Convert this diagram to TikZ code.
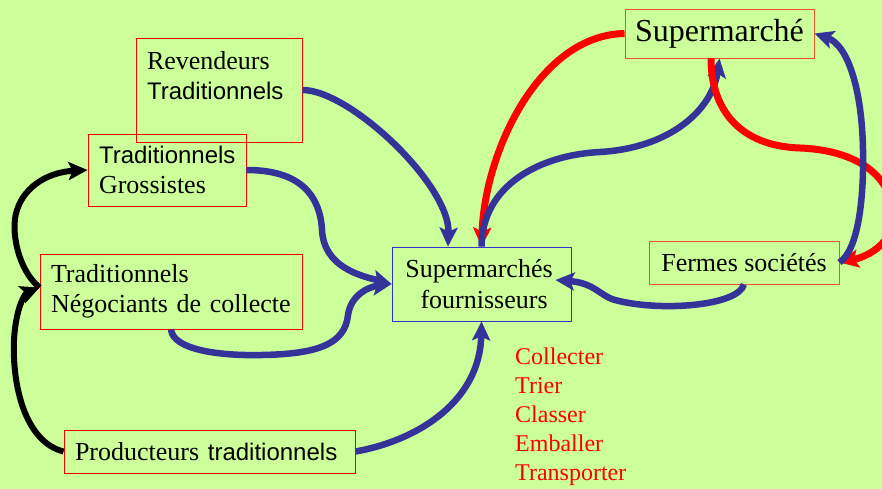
\documentclass[tikz,border=0pt]{standalone}
\usepackage{fontspec}
\setmainfont{Liberation Serif}
\setsansfont{Liberation Sans}
\usetikzlibrary{arrows.meta}

\definecolor{bgc}{RGB}{204,255,153}
\definecolor{flowblue}{RGB}{51,51,153}
\definecolor{flowred}{RGB}{255,0,0}
\definecolor{edgeorange}{RGB}{238,85,51}
\definecolor{edgeblue}{RGB}{51,51,204}

\tikzset{
  tradbox/.style={draw=flowred, line width=0.9pt, inner ysep=0pt, inner xsep=11pt,
    align=left, font=\fontsize{26}{30}\selectfont},
  shopbox/.style={draw=edgeorange, line width=0.9pt, inner sep=0pt, align=center},
  hubbox/.style={draw=edgeblue, line width=0.8pt, inner sep=0pt, align=right,
    font=\fontsize{26}{31}\selectfont},
  tip/.style={-{Stealth[length=19pt,width=18pt,inset=4pt]}},
  blueflow/.style={tip, draw=flowblue, line width=6.5pt},
  redflow/.style={tip, draw=flowred, line width=7pt},
  blackflow/.style={tip, draw=black, line width=6pt},
}
\newcommand{\sanstxt}[1]{{\sffamily\fontsize{24}{30}\selectfont #1}}

\begin{document}
\begin{tikzpicture}[x=1pt,y=-1pt]
  \fill[bgc] (0,0) rectangle (882,489);
  \useasboundingbox (0,0) rectangle (882,489);

  % boxes
  \node[tradbox, text width=144pt, minimum height=104pt] (rev) at (219,90)
    {Revendeurs\\\sanstxt{Traditionnels}\\\mbox{}};
  \node[tradbox, text width=136pt, minimum height=72pt] (gro) at (167,170)
    {\sanstxt{Traditionnels}\\Grossistes};
  \node[tradbox, text width=240pt, minimum height=75pt] (neg) at (171,291.5)
    {Traditionnels\\Négociants de collecte};
  \node[tradbox, text width=269pt, minimum height=43pt] (prod) at (209.5,451.5)
    {Producteurs \sanstxt{traditionnels}};
  \node[hubbox, minimum width=179pt, minimum height=74pt] (sf) at (481.5,284)
    {\hspace*{-5pt}Supermarchés\\fournisseurs\hspace*{5pt}};
  \node[shopbox, minimum width=189pt, minimum height=49pt,
    font=\fontsize{32}{36}\selectfont] (sm) at (719.5,33.5) {Supermarché};
  \node[shopbox, minimum width=190pt, minimum height=43pt,
    font=\fontsize{26}{30}\selectfont] (fs) at (744,262.5) {Fermes sociétés};

  \node[font=\fontsize{24}{29}\selectfont, text=flowred, align=left,
    anchor=north west, inner sep=0pt] (tasks) at (515,348)
    {Collecter\\Trier\\Classer\\Emballer\\Transporter};

  % traditional chain
  \draw[blackflow] (prod.west) .. controls (25,442) and (12,385) .. (14,340)
    .. controls (16,305) and (26,293) .. ([yshift=4pt]neg.west);
  \draw[blackflow] ([yshift=4pt]neg.west) .. controls (18,270) and (10,230) .. (17,210)
    .. controls (25,185) and (50,172) .. (gro.west);

  % flows into the supplier hub
  \draw[blueflow] (rev.east) .. controls (350,90) and (450,185) .. ([xshift=-33.5pt]sf.north);
  \draw[blueflow] (gro.east) .. controls (300,170) and (320,195) .. (322,230)
    .. controls (324,268) and (362,276) .. (sf.west);
  \draw[blueflow] (neg.south) .. controls (173,350) and (220,356) .. (262,355)
    .. controls (318,354) and (345,344) .. (348,315)
    .. controls (351,295) and (368,287) .. (sf.west);
  \draw[blueflow] (prod.east) .. controls (420,440) and (480,400) .. (sf.south);

  % supermarket loops
  \draw[redflow] (sm.west) .. controls (540,35) and (485,150) .. (sf.north);
  \draw[blueflow] (sf.north) .. controls (482,185) and (540,155) .. (600,152)
    .. controls (670,148) and (712,110) .. (sm.south);
  \draw[redflow] ([xshift=-8.5pt]sm.south) .. controls (711,110) and (740,146) .. (800,148)
    .. controls (850,150) and (885,170) .. (892,205)
    .. controls (900,235) and (875,255) .. (fs.east);
  \draw[blueflow] (fs.east) .. controls (858,250) and (864,200) .. (863,150)
    .. controls (862,90) and (848,45) .. (sm.east);
  \draw[blueflow] (fs.south) .. controls (738,306) and (660,312) .. (615,300)
    .. controls (600,296) and (595,283) .. ([xshift=-16pt,yshift=4pt]sf.east);
\end{tikzpicture}
\end{document}
